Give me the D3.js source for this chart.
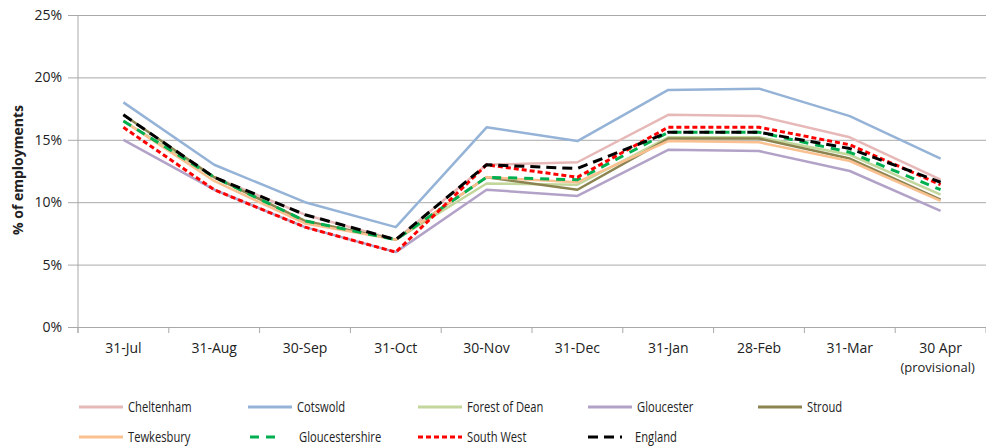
<!DOCTYPE html>
<html>
<head>
<meta charset="utf-8">
<title>Employments chart</title>
<style>
  body { margin: 0; background: #fff; }
  svg text { font-family: "Open Sans", "Liberation Sans", sans-serif; fill: #222; }
</style>
</head>
<body>
<script src="https://d3js.org/d3.v7.min.js"></script>
<script>
// data
const months = ['31-Jul', '31-Aug', '30-Sep', '31-Oct', '30-Nov', '31-Dec', '31-Jan', '28-Feb', '31-Mar', '30 Apr|(provisional)'];
const yTicks = [0, 5, 10, 15, 20, 25];

const cheltenham      = [16.5, 12.0, 9.0, 7.0, 13.0, 13.2, 17.0, 16.9, 15.2, 11.8];
const cotswold        = [18.0, 13.0, 10.0, 8.0, 16.0, 14.9, 19.0, 19.1, 16.9, 13.5];
const forestOfDean    = [16.5, 12.0, 8.5, 7.0, 11.5, 11.4, 15.2, 15.2, 13.8, 10.6];
const gloucester      = [15.0, 11.0, 8.0, 6.0, 11.0, 10.5, 14.2, 14.1, 12.5, 9.3];
const stroud          = [17.0, 12.0, 8.5, 7.0, 12.0, 11.0, 15.1, 15.1, 13.5, 10.2];
const tewkesbury      = [16.5, 11.7, 8.3, 7.0, 12.0, 11.6, 14.9, 14.8, 13.3, 10.1];
const gloucestershire = [16.5, 12.0, 8.5, 7.0, 12.0, 11.8, 15.6, 15.6, 14.0, 11.0];
const southWest       = [16.0, 11.0, 8.0, 6.0, 13.0, 12.0, 16.0, 16.0, 14.6, 11.4];
const england         = [17.0, 12.0, 9.0, 7.0, 13.0, 12.7, 15.6, 15.6, 14.3, 11.6];

const series = [
  { name: 'Cheltenham', values: cheltenham, color: '#e6b9b8', dash: null },
  { name: 'Cotswold', values: cotswold, color: '#95b3d7', dash: null },
  { name: 'Forest of Dean', values: forestOfDean, color: '#c3d69b', dash: null },
  { name: 'Gloucester', values: gloucester, color: '#b3a2c7', dash: null },
  { name: 'Stroud', values: stroud, color: '#8c8450', dash: null },
  { name: 'Tewkesbury', values: tewkesbury, color: '#fac090', dash: null },
  { name: 'Gloucestershire', values: gloucestershire, color: '#00b050', dash: '9,7' },
  { name: 'South West', values: southWest, color: '#ff0000', dash: '5,3' },
  { name: 'England', values: england, color: '#000000', dash: '10,6' }
];

const w = 986, h = 447;
const margin = { top: 15, right: 0, bottom: 120, left: 78 };
const inner_w = w - margin.left - margin.right;
const inner_h = h - margin.top - margin.bottom;

const svg = d3.select('body').append('svg')
  .attr('width', w)
  .attr('height', h);

const g = svg.append('g').attr('transform', `translate(${margin.left},${margin.top})`);

const x = d3.scaleBand().domain(months).range([0, inner_w]);
const y = d3.scaleLinear().domain([0, 25]).range([inner_h, 0]);

// gridlines + y axis
const yAxis = g.append('g')
  .call(d3.axisLeft(y).tickValues(yTicks).tickSize(-inner_w).tickPadding(6).tickFormat(d => d + '%'));
yAxis.select('.domain').remove();
yAxis.selectAll('.tick line').attr('stroke', '#a9a9a9').attr('x1', -10);
yAxis.selectAll('.tick text').attr('font-size', 14).attr('fill', '#222').attr('x', -16);
yAxis.selectAll('text').style('font-family', '"Open Sans", sans-serif');

// x axis
const xAxis = g.append('g')
  .attr('transform', `translate(0,${inner_h})`)
  .call(d3.axisBottom(x).tickSize(0).tickFormat(''));
xAxis.select('.domain').attr('stroke', '#a9a9a9');
xAxis.selectAll('.tick text').remove();

// tick marks at band edges
g.append('g').selectAll('line')
  .data(months.concat(['end']))
  .join('line')
  .attr('x1', (d, i) => i * x.step())
  .attr('x2', (d, i) => i * x.step())
  .attr('y1', inner_h)
  .attr('y2', inner_h + 6)
  .attr('stroke', '#a9a9a9');

// left axis line
g.append('line')
  .attr('x1', 0).attr('x2', 0)
  .attr('y1', 0).attr('y2', inner_h + 6)
  .attr('stroke', '#a9a9a9');

// x labels (second line for the last one)
const xLab = [];
months.forEach(m => m.split('|').forEach((part, i) => xLab.push({ m, part, i })));
g.append('g').selectAll('text')
  .data(xLab)
  .join('text')
  .attr('x', d => x(d.m) + x.bandwidth() / 2 + (d.i ? -3 : 0))
  .attr('y', d => inner_h + 26 + d.i * 19)
  .attr('text-anchor', 'middle')
  .attr('font-size', d => d.i ? 13 : 14)
  .attr('fill', '#222')
  .text(d => d.part);

// lines
const line = d3.line()
  .x((d, i) => x(months[i]) + x.bandwidth() / 2)
  .y(d => y(d));

g.append('g').selectAll('path')
  .data(series)
  .join('path')
  .attr('d', d => line(d.values))
  .attr('fill', 'none')
  .attr('stroke', d => d.color)
  .attr('stroke-width', d => d.dash ? 3 : 2.5)
  .attr('stroke-dasharray', d => d.dash)
  .attr('stroke-linejoin', 'round');

// y axis title
svg.append('text')
  .attr('transform', 'translate(23,170) rotate(-90)')
  .attr('text-anchor', 'middle')
  .attr('font-size', 14)
  .attr('font-weight', 'bold')
  .attr('fill', '#111')
  .text('% of employments');

// legend
const legend = svg.append('g').attr('class', 'legend');
const legPos = [
  [79, 407], [248, 407], [418, 407], [588, 407], [758, 407],
  [79, 437], [248, 437], [418, 437], [588, 437]
];
const item = legend.selectAll('g')
  .data(series)
  .join('g')
  .attr('transform', (d, i) => `translate(${legPos[i][0]},${legPos[i][1]})`);

item.append('line')
  .attr('x1', d => d.name === 'Gloucestershire' ? 2 : 0)
  .attr('x2', d => d.name === 'Gloucestershire' ? 30 : (d.name === 'England' ? 34 : 44))
  .attr('y1', 0).attr('y2', 0)
  .attr('stroke', d => d.color)
  .attr('stroke-width', 3)
  .attr('stroke-dasharray', d => d.dash);

// narrow text, like the original's condensed legend
item.append('text')
  .attr('transform', d => `translate(${d.name === 'Gloucestershire' ? 51 : (d.name === 'England' ? 47 : 49)},5) scale(0.8,1)`)
  .attr('font-size', 14)
  .attr('fill', '#222')
  .text(d => d.name);
</script>
</body>
</html>
